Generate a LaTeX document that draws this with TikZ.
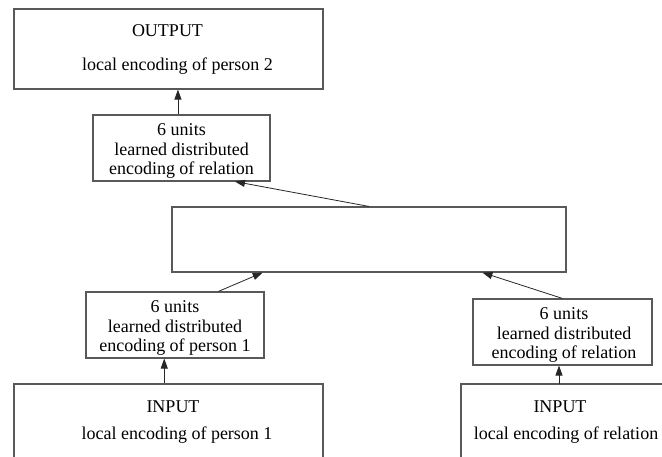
\documentclass[tikz,border=0pt]{standalone}
\usepackage{fontspec}
\setmainfont{Liberation Serif}
\usetikzlibrary{arrows.meta,calc}
\begin{document}
\begin{tikzpicture}[x=1pt,y=-1pt,
  box/.style={draw=black!65,line width=1.1pt,rectangle,inner sep=0pt},
  lbl/.style={font=\rmfamily\fontsize{18}{19.5}\selectfont,align=center,inner sep=0pt},
  txt/.style={font=\rmfamily\fontsize{18}{20}\selectfont,inner sep=0pt,anchor=base},
  arr/.style={draw=black!85,line width=0.8pt,-{Triangle[length=10pt,width=7pt]}}]
\useasboundingbox (0,0) rectangle (662,457);
\clip (0,0) rectangle (662,457);
% boxes
\node[box,minimum width=309pt,minimum height=80pt] (out) at (168.5,49) {};
\node[box,minimum width=177pt,minimum height=66pt] (rel2) at (181.5,148) {};
\node[box,minimum width=394pt,minimum height=65pt] (mid) at (369,239.5) {};
\node[box,minimum width=178pt,minimum height=66pt] (p1) at (175,325) {};
\node[box,minimum width=179pt,minimum height=66pt] (rel1) at (562.5,332) {};
\node[box,minimum width=309pt,minimum height=80pt] (in1) at (168.5,424) {};
\node[box,minimum width=309pt,minimum height=80pt] (in2) at (615.5,424) {};
% texts
\node[txt] (outA) at (167.5,37) {OUTPUT};
\node[txt] (outB) at (177.5,71) {local encoding of person 2};
\node[lbl] (rel2t) at (181.5,151) {6 units\\learned distributed\\encoding of relation};
\node[lbl] (p1t) at (175,328) {6 units\\learned distributed\\encoding of person 1};
\node[lbl] (rel1t) at (564,335) {6 units\\learned distributed\\encoding of relation};
\node[txt] (in1A) at (173,413) {INPUT};
\node[txt] (in1B) at (177,439) {local encoding of person 1};
\node[txt] (in2A) at (560,413) {INPUT};
\node[txt] (in2B) at (566,439) {local encoding of relation};
% connectors
\coordinate (r2s) at ($(rel2.south west)!0.80!(rel2.south east)$);
\coordinate (m1) at ($(mid.south west)!0.231!(mid.south east)$);
\coordinate (m2) at ($(mid.south west)!0.787!(mid.south east)$);
\coordinate (p1n) at ($(p1.north west)!0.742!(p1.north east)$);
\coordinate (rel2n) at ($(rel2.north west)!0.48!(rel2.north east)$);
\coordinate (p1s) at ($(p1.south west)!0.44!(p1.south east)$);
\coordinate (in2n) at (559,384);
\draw[arr] (rel2n) -- (rel2n |- out.south);
\draw[arr] (mid.north) -- (r2s);
\draw[arr] (p1n) -- (m1);
\draw[arr] (rel1.north) -- (m2);
\draw[arr] (p1s |- in1.north) -- (p1s);
\draw[arr] (in2n) -- (in2n |- rel1.south);
\end{tikzpicture}
\end{document}
